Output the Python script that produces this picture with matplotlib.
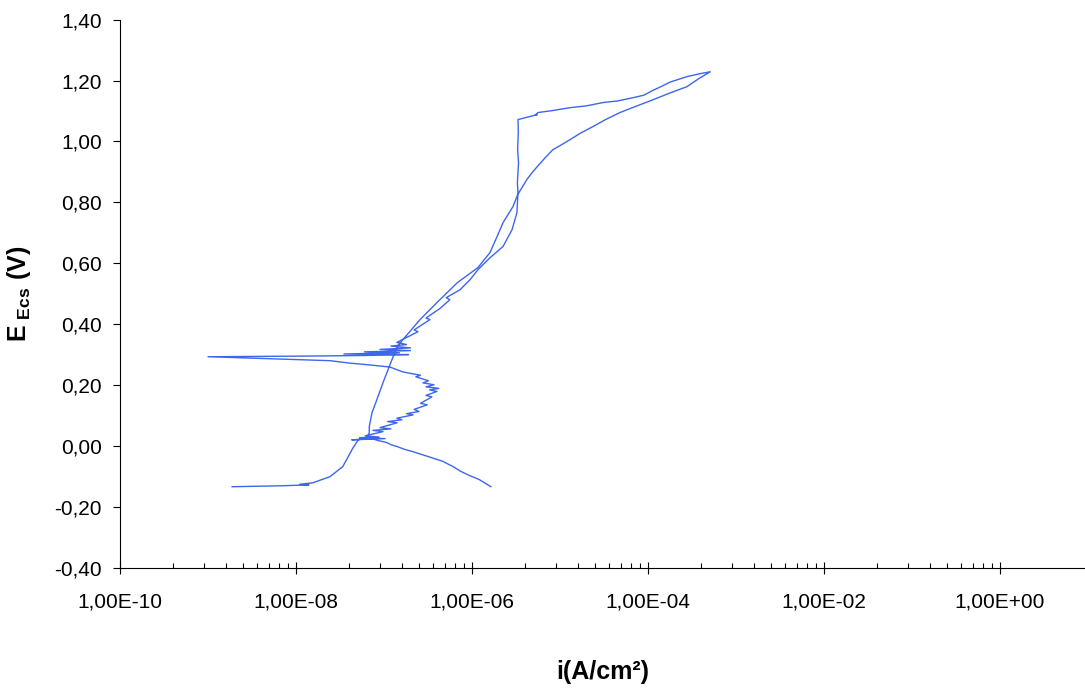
import matplotlib.pyplot as plt
import numpy as np

plt.rcParams['font.family'] = ['Liberation Sans', 'DejaVu Sans']
plt.rcParams['mathtext.fontset'] = 'custom'
plt.rcParams['mathtext.rm'] = 'Liberation Sans'
plt.rcParams['mathtext.bf'] = 'Liberation Sans:bold'

# forward scan, cathodic part down to Ecorr (A/cm2, V)
i_cath = [1.64e-6, 1.2e-6, 9.5e-7, 7.5e-7, 6.1e-7, 4.6e-7, 3.6e-7, 2.6e-7, 2.14e-7,
          1.7e-7, 1.44e-7, 1.2e-7, 1.08e-7, 8.5e-8, 7.3e-8,
          4.3e-8, 1.03e-7, 5.3e-8, 8.8e-8, 6.1e-8]
E_cath = [-0.134, -0.110, -0.098, -0.084, -0.068, -0.050, -0.040, -0.027, -0.019,
          -0.011, -0.003, 0.004, 0.011, 0.018, 0.024,
          0.020, 0.024, 0.027, 0.029, 0.033]

# forward scan, noisy active region up to the zero-current spike
i_act = [9.75e-8, 7.5e-8, 1.2e-7, 9.0e-8, 1.41e-7, 1.1e-7, 1.6e-7, 1.4e-7, 2.14e-7,
         1.8e-7, 2.5e-7, 2.2e-7, 3.1e-7, 2.6e-7, 3.5e-7, 3.0e-7, 4.0e-7, 3.3e-7,
         4.2e-7, 3.0e-7, 3.7e-7, 2.77e-7, 3.2e-7, 2.3e-7, 2.6e-7, 1.64e-7, 1.17e-7,
         6.9e-8, 4.1e-8, 2.43e-8]
E_act = [0.047, 0.051, 0.056, 0.060, 0.076, 0.080, 0.086, 0.091, 0.102,
         0.106, 0.113, 0.120, 0.135, 0.140, 0.161, 0.166, 0.179, 0.184,
         0.189, 0.194, 0.201, 0.207, 0.214, 0.227, 0.232, 0.243, 0.259,
         0.266, 0.272, 0.280]

# forward scan, spike + passive region + breakdown
i_pass = [1.0e-9, 1.2e-8, 6e-8, 1.9e-7, 3.5e-8, 1.5e-7, 6e-8, 2.0e-7, 9e-8, 2.0e-7,
          1.2e-7, 1.8e-7, 1.4e-7, 2.43e-7, 2.2e-7, 3.33e-7, 3.0e-7, 4.3e-7, 5.6e-7,
          5.1e-7, 7.3e-7, 9.5e-7, 1.17e-6, 1.6e-6, 2.25e-6, 2.85e-6, 3.24e-6, 3.33e-6,
          3.28e-6, 3.38e-6, 3.3e-6, 3.36e-6, 3.33e-6, 5.5e-6, 5.2e-6, 5.6e-6, 8.0e-6,
          1.30e-5, 2.0e-5, 3.1e-5, 4.5e-5, 6.8e-5, 9.0e-5, 1.14e-4, 1.4e-4, 1.78e-4,
          2.77e-4, 3.8e-4, 5.1e-4]
E_pass = [0.293, 0.295, 0.297, 0.300, 0.302, 0.306, 0.309, 0.313, 0.317, 0.322,
          0.328, 0.333, 0.340, 0.375, 0.381, 0.415, 0.420, 0.451, 0.480,
          0.487, 0.513, 0.546, 0.579, 0.618, 0.655, 0.710, 0.766, 0.832,
          0.865, 0.930, 0.973, 1.030, 1.072, 1.088, 1.086, 1.095, 1.101,
          1.111, 1.117, 1.128, 1.133, 1.144, 1.152, 1.168, 1.180, 1.195,
          1.213, 1.222, 1.229]

# reverse scan
i_rev = [5.1e-4, 3.8e-4, 2.77e-4, 1.8e-4, 1.14e-4, 7.2e-5, 4.8e-5, 3.3e-5, 2.37e-5,
         1.70e-5, 1.30e-5, 1.05e-5, 8.3e-6, 6.8e-6, 5.5e-6, 4.8e-6, 4.2e-6,
         3.3e-6, 2.92e-6, 2.25e-6, 1.97e-6, 1.6e-6, 1.17e-6, 6.8e-7, 4.0e-7, 2.57e-7,
         1.64e-7, 1.41e-7, 1.17e-7, 9.75e-8, 8.3e-8, 7.3e-8, 6.8e-8, 6.8e-8, 6.4e-8,
         5.1e-8, 4.45e-8, 3.4e-8, 2.43e-8, 1.56e-8, 1.1e-8, 1.4e-8, 6.6e-9, 1.88e-9]
E_rev = [1.229, 1.207, 1.180, 1.160, 1.137, 1.115, 1.095, 1.072, 1.049,
         1.027, 1.006, 0.990, 0.973, 0.947, 0.917, 0.897, 0.875,
         0.825, 0.786, 0.733, 0.694, 0.635, 0.586, 0.536, 0.471, 0.415,
         0.349, 0.326, 0.267, 0.208, 0.152, 0.109, 0.063, 0.043, 0.027,
         0.020, -0.006, -0.068, -0.101, -0.121, -0.126, -0.128, -0.131, -0.134]

xticks = [1e-10, 1e-8, 1e-6, 1e-4, 1e-2, 1e0]
xlabels = ['1,00E-10', '1,00E-08', '1,00E-06', '1,00E-04', '1,00E-02', '1,00E+00']
yticks = np.arange(-0.4, 1.41, 0.2)

i_all = i_cath + i_act + i_pass + i_rev
E_all = E_cath + E_act + E_pass + E_rev

fig = plt.figure(figsize=(10.85, 6.88), dpi=100)
ax = fig.add_axes([120/1085, 1 - 567.7/688, 965/1085, 548/688])

ax.plot(i_all, E_all, color='#3d66ee', lw=1.0)

ax.set_xscale('log')
ax.set_xlim(1e-10, 10**(965/88 - 10))
ax.set_ylim(-0.4, 1.4)

ax.set_xticks(xticks)
ax.set_xticklabels(xlabels)
minor = [1e-10 * k**2 * 100**m for m in range(5) for k in range(2, 10)]
ax.set_xticks(minor, minor=True)
ax.xaxis.set_minor_formatter(plt.NullFormatter())
ax.set_yticks(yticks)
ax.set_yticklabels([f'{v:.2f}'.replace('.', ',').replace('-0,00', '0,00') for v in yticks])

ax.tick_params(axis='x', which='major', direction='inout', length=8, width=0.8, labelsize=15, pad=14)
ax.tick_params(axis='x', which='minor', direction='in', length=3.6, width=0.8)
ax.tick_params(axis='y', which='major', direction='out', length=5, width=0.8, labelsize=15, pad=8)

for s in ['top', 'right']:
    ax.spines[s].set_visible(False)
for s in ['left', 'bottom']:
    ax.spines[s].set_linewidth(0.8)

ax.set_xlabel('i(A/cm²)', fontsize=18, fontweight='bold')
ax.xaxis.set_label_coords(0.5, -(672 - 567.7) / 548)
ax.xaxis.label.set_va('center')
ax.set_ylabel(r'$\mathbf{E_{\ Ecs}\ (V)}$', fontsize=18)
ax.yaxis.set_label_coords(-101/965, 0.5)
ax.yaxis.label.set_va('center')

fig.savefig('out.png', dpi=100)
